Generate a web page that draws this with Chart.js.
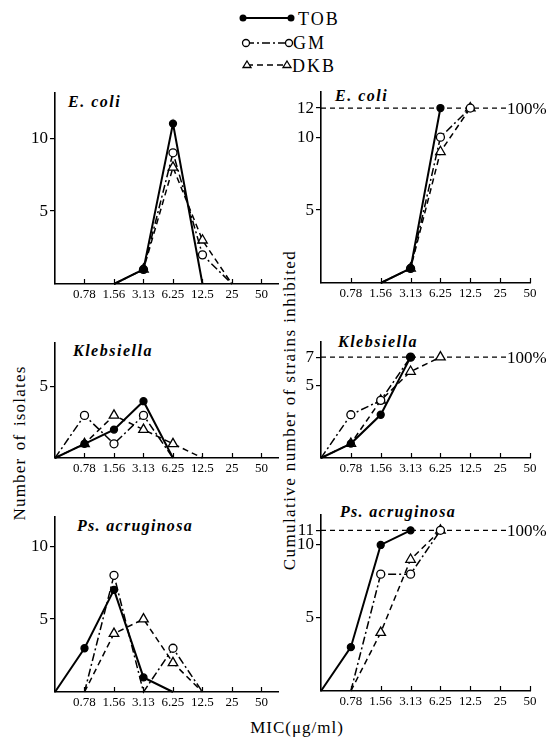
<!DOCTYPE html>
<html>
<head>
<meta charset="utf-8">
<script src="https://cdn.jsdelivr.net/npm/chart.js@4/dist/chart.umd.min.js"></script>
<style>
  html, body { margin: 0; padding: 0; background: #fff; }
  #page { position: relative; width: 549px; height: 742px; overflow: hidden; }
  #page canvas { position: absolute; }
  #txt { position: absolute; left: 0; top: 0; }
  #txt text { font-family: "Liberation Serif", "Times New Roman", "DejaVu Serif", serif; fill: #000; }
</style>
</head>
<body>
<div id="page">
  <svg id="txt" width="549" height="742">
    <!-- key -->
    <line x1="243" y1="18" x2="291" y2="18" stroke="#000" stroke-width="2"/>
    <circle cx="243" cy="18" r="3.5" fill="#000"/>
    <circle cx="291" cy="18" r="3.5" fill="#000"/>
    <text x="298" y="25" font-size="18" letter-spacing="2">TOB</text>
    <line x1="246" y1="43" x2="289" y2="43" stroke="#000" stroke-width="1.5" stroke-dasharray="8 3 2 3"/>
    <circle cx="246" cy="43" r="3.5" fill="#fff" stroke="#000" stroke-width="1.3"/>
    <circle cx="289" cy="43" r="3.5" fill="#fff" stroke="#000" stroke-width="1.3"/>
    <text x="293" y="49" font-size="18" letter-spacing="2">GM</text>
    <line x1="247" y1="65" x2="287" y2="65" stroke="#000" stroke-width="1.5" stroke-dasharray="6 4"/>
    <polygon points="247,61 251,67.5 243,67.5" fill="#fff" stroke="#000" stroke-width="1.3"/>
    <polygon points="287,61 291,67.5 283,67.5" fill="#fff" stroke="#000" stroke-width="1.3"/>
    <text x="292" y="72" font-size="18" letter-spacing="2">DKB</text>

    <!-- panel titles -->
    <text x="68" y="107" font-size="16" font-style="italic" font-weight="bold" letter-spacing="1.5">E. coli</text>
    <text x="335" y="101" font-size="16" font-style="italic" font-weight="bold" letter-spacing="1.5">E. coli</text>
    <text x="73" y="356" font-size="16" font-style="italic" font-weight="bold" letter-spacing="1.5">Klebsiella</text>
    <text x="338" y="347" font-size="16" font-style="italic" font-weight="bold" letter-spacing="1.5">Klebsiella</text>
    <text x="77" y="531" font-size="16" font-style="italic" font-weight="bold" letter-spacing="1.3">Ps. acruginosa</text>
    <text x="340" y="517" font-size="16" font-style="italic" font-weight="bold" letter-spacing="1.3">Ps. acruginosa</text>

    <!-- axis titles -->
    <text transform="translate(25,443) rotate(-90)" text-anchor="middle" font-size="17" letter-spacing="1.2" word-spacing="2">Number of isolates</text>
    <text transform="translate(295,410) rotate(-90)" text-anchor="middle" font-size="17" letter-spacing="1.4">Cumulative number of strains inhibited</text>
    <text x="297" y="733" text-anchor="middle" font-size="17" letter-spacing="1">MIC(μg/ml)</text>
  </svg>
</div>
<script>
// x positions: 0 = origin, 1..7 = MIC steps
const micLabels = ['0.78', '1.56', '3.13', '6.25', '12.5', '25', '50'];

// number of isolates
const ecoliTOB = [null, null, 0, 1, 11, 0, null, null];
const ecoliGM  = [null, null, 0, 1, 9, 2, 0, null];
const ecoliDKB = [null, null, 0, 1, 8, 3, 0, null];

const klebTOB = [0, 1, 2, 4, 0, null, null, null];
const klebGM  = [0, 3, 1, 3, 0, null, null, null];
const klebDKB = [0, 1, 3, 2, 1, 0, null, null];

const psTOB = [0, 3, 7, 1, 0, null, null, null];
const psGM  = [null, 0, 8, 0, 3, 0, null, null];
const psDKB = [null, 0, 4, 5, 2, 0, null, null];

// cumulative number of strains inhibited
const ecoliCumTOB = [null, null, 0, 1, 12, null, null, null];
const ecoliCumGM  = [null, null, 0, 1, 10, 12, null, null];
const ecoliCumDKB = [null, null, 0, 1, 9, 12, null, null];

const klebCumTOB = [0, 1, 3, 7, null, null, null, null];
const klebCumGM  = [0, 3, 4, 7, null, null, null, null];
const klebCumDKB = [0, 1, 4, 6, 7, null, null, null];

const psCumTOB = [0, 3, 10, 11, null, null, null, null];
const psCumGM  = [null, 0, 8, 8, 11, null, null, null];
const psCumDKB = [null, 0, 4, 9, 11, null, null, null];

const totals = { ecoli: 12, kleb: 7, ps: 11 };

const yTicksLeft  = { ecoli: [5, 10], kleb: [5], ps: [5, 10] };
const yTicksRight = { ecoli: [5, 10, 12], kleb: [5, 7], ps: [5, 10, 11] };

const styles = {
  TOB: { dash: [], width: 2, pt: 'circle', r: 3.5, bg: '#000' },
  GM:  { dash: [8, 3, 2, 3], width: 1.5, pt: 'circle', r: 4, bg: '#fff' },
  DKB: { dash: [6, 4], width: 1.5, pt: 'triangle', r: 5.5, bg: '#fff' }
};

const page = document.getElementById('page');
const SERIF = '"Liberation Serif", "Times New Roman", "DejaVu Serif", serif';

function mkSet(name, values) {
  const s = styles[name];
  const pts = [];
  values.forEach((v, i) => { if (v !== null) pts.push({ x: i, y: v }); });
  return {
    label: name,
    data: pts,
    borderColor: '#000',
    borderWidth: s.width,
    borderDash: s.dash,
    backgroundColor: s.bg,
    pointStyle: s.pt,
    pointRadius: pts.map(p => p.y === 0 ? 0 : s.r),
    pointBackgroundColor: s.bg,
    pointBorderColor: '#000',
    pointBorderWidth: 1.3,
    tension: 0,
    clip: false
  };
}

function panel(o) {
  const padTop = 20, axisH = 26;
  const w = o.canvasW;
  const h = o.bottom - o.top + padTop + axisH;
  const cv = document.createElement('canvas');
  cv.width = w; cv.height = h;
  cv.style.left = o.cx + 'px';
  cv.style.top = (o.top - padTop) + 'px';
  cv.style.width = w + 'px';
  cv.style.height = h + 'px';
  page.appendChild(cv);

  new Chart(cv, {
    type: 'line',
    data: { datasets: [mkSet('TOB', o.tob), mkSet('GM', o.gm), mkSet('DKB', o.dkb)] },
    options: {
      responsive: false,
      animation: false,
      devicePixelRatio: 1,
      layout: { padding: { top: padTop, left: 0, bottom: 0, right: w - (o.right - o.cx) } },
      plugins: { legend: { display: false }, tooltip: { enabled: false } },
      scales: {
        x: {
          type: 'linear', min: 0, max: o.xMax,
          grid: { display: false, drawTicks: false },
          border: { display: true, color: '#000', width: 1.6 },
          afterBuildTicks: s => { s.ticks = micLabels.map((_, i) => ({ value: i + 1 })); },
          ticks: {
            autoSkip: false, maxRotation: 0, padding: 3, color: '#000',
            font: { family: SERIF, size: 13 },
            callback: v => micLabels[v - 1] ?? ''
          },
          afterFit: s => { s.height = axisH; }
        },
        y: {
          min: 0, max: o.yMax,
          grid: { display: true, drawOnChartArea: false, drawTicks: true, tickLength: 5, color: '#000', lineWidth: 1.2 },
          border: { display: true, color: '#000', width: 1.6 },
          afterBuildTicks: s => { s.ticks = o.yTicks.map(v => ({ value: v })); },
          ticks: { padding: 2, color: '#000', font: { family: SERIF, size: 17 } },
          afterFit: s => { s.width = o.left - o.cx; }
        }
      }
    },
    plugins: [{
      id: 'deco',
      beforeDatasetsDraw(chart) {
        if (!o.total) return;
        const ctx = chart.ctx, a = chart.chartArea;
        const py = chart.scales.y.getPixelForValue(o.total);
        const endX = o.lineEnd - o.cx;
        ctx.save();
        ctx.strokeStyle = '#000';
        ctx.lineWidth = 1.2;
        ctx.setLineDash([5, 4]);
        ctx.beginPath();
        ctx.moveTo(a.left, py);
        ctx.lineTo(endX, py);
        ctx.stroke();
        ctx.setLineDash([]);
        ctx.fillStyle = '#000';
        ctx.font = '17px ' + SERIF;
        ctx.textAlign = 'left';
        ctx.textBaseline = 'middle';
        ctx.fillText('100%', endX + 1, py + 1);
        ctx.restore();
      },
      afterDraw(chart) {
        // small tick marks standing up from the x axis
        const ctx = chart.ctx, a = chart.chartArea, xs = chart.scales.x;
        ctx.save();
        ctx.strokeStyle = '#000';
        ctx.lineWidth = 1.2;
        micLabels.forEach((_, i) => {
          const px = Math.round(xs.getPixelForValue(i + 1)) + 0.5;
          ctx.beginPath();
          ctx.moveTo(px, a.bottom);
          ctx.lineTo(px, a.bottom - 5);
          ctx.stroke();
        });
        ctx.restore();
      }
    }]
  });
}

// left column: number of isolates
panel({ cx: 0, canvasW: 290, left: 55, right: 278, top: 93, bottom: 284, xMax: 7.56, yMax: 13.1,
        yTicks: yTicksLeft.ecoli, tob: ecoliTOB, gm: ecoliGM, dkb: ecoliDKB });
panel({ cx: 0, canvasW: 290, left: 55, right: 278, top: 343, bottom: 458, xMax: 7.56, yMax: 8.1,
        yTicks: yTicksLeft.kleb, tob: klebTOB, gm: klebGM, dkb: klebDKB });
panel({ cx: 0, canvasW: 290, left: 55, right: 278, top: 517, bottom: 692, xMax: 7.56, yMax: 12.0,
        yTicks: yTicksLeft.ps, tob: psTOB, gm: psGM, dkb: psDKB });

// right column: cumulative
panel({ cx: 280, canvasW: 269, left: 321, right: 530, top: 92, bottom: 283, xMax: 7.0, yMax: 13.1,
        yTicks: yTicksRight.ecoli, tob: ecoliCumTOB, gm: ecoliCumGM, dkb: ecoliCumDKB,
        total: totals.ecoli, lineEnd: 506 });
panel({ cx: 280, canvasW: 269, left: 321, right: 530, top: 342, bottom: 458, xMax: 7.0, yMax: 8.05,
        yTicks: yTicksRight.kleb, tob: klebCumTOB, gm: klebCumGM, dkb: klebCumDKB,
        total: totals.kleb, lineEnd: 506 });
panel({ cx: 280, canvasW: 269, left: 321, right: 530, top: 515, bottom: 691, xMax: 7.0, yMax: 12.05,
        yTicks: yTicksRight.ps, tob: psCumTOB, gm: psCumGM, dkb: psCumDKB,
        total: totals.ps, lineEnd: 506 });
</script>
</body>
</html>
